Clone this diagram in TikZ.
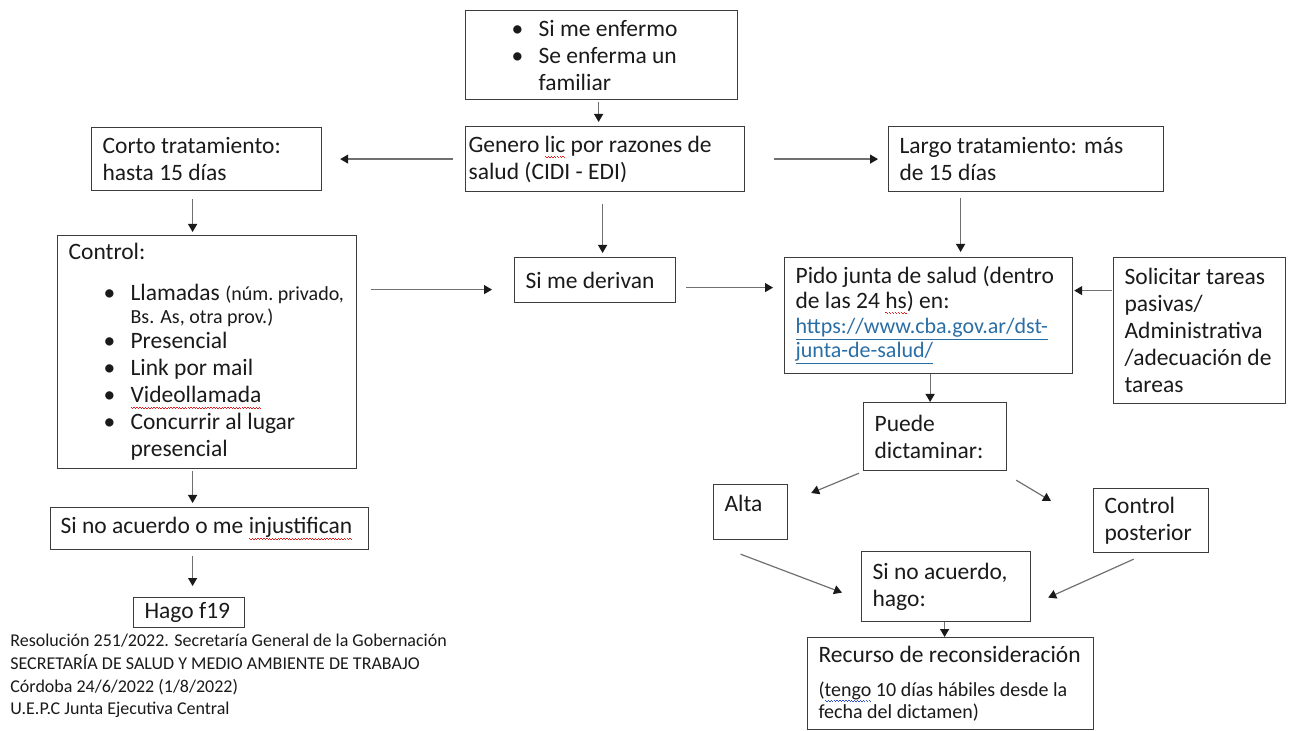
\documentclass[tikz,border=0pt]{standalone}
\usepackage{fontspec}
\setmainfont{Carlito}
\usepackage{tikz}
\usetikzlibrary{arrows.meta}
\definecolor{ink}{HTML}{1A1A1A}
\definecolor{frame}{HTML}{3C3C3C}
\definecolor{wire}{HTML}{707070}
\definecolor{link}{HTML}{2A6EA6}
\definecolor{spell}{HTML}{E02020}
\definecolor{spellb}{HTML}{3050D0}
\newcommand\txt{\fontsize{11.75}{13.5}\selectfont}
\newcommand\sml{\fontsize{10}{11}\selectfont}
\newcommand\bul{\hspace*{17.5pt}\makebox[13.5pt][l]{\textbullet}}
\newcommand\cont{\hspace*{31pt}}
% spell-check squiggle under a word
\newcommand\wavy[2]{\setbox0\hbox{#2}\rlap{\textcolor{#1}{\hbox to\wd0{\xleaders\hbox{\rule[-2.3pt]{0.7pt}{0.35pt}\rule[-2.8pt]{0.7pt}{0.35pt}}\hfill}}}\box0\relax}

\begin{document}
\begin{tikzpicture}[x=0.5pt,y=-0.5pt, every node/.style={font=\txt,text=ink},
    box/.style={draw=frame,line width=0.6pt,anchor=north west,align=flush left,inner xsep=5.5pt,inner ysep=2pt},
    arr/.style={-{Triangle[length=4pt,width=4.5pt,ink]},wire,line width=0.6pt}]
    \useasboundingbox (0,0) rectangle (1289,731);
    % middle column
    \node[box,text width=125pt,minimum height=44.5pt] (sick) at (465,10) {\bul Si me enfermo\\ \bul Se enferma un\\ \cont familiar};
    \node[box,inner xsep=1.5pt,text width=136.5pt,minimum height=32.5pt] (genero) at (465,126) {Genero \wavy{spell}{lic} por razones de\\salud (CIDI - EDI)};
    \node[box,text width=69.5pt,minimum height=22.5pt] (derivan) at (514,257) {Si me~derivan};
    % left column
    \node[box,text width=104pt,minimum height=31.5pt] (corto) at (91,127) {Corto tratamiento:\\hasta 15 días};
    \node[box,text width=138.5pt,minimum height=116.5pt] (control) at (57,235) {Control:\\[7pt]
      \bul Llamadas~{\sml (núm.~privado,}\\[-2pt] \cont{\sml Bs. As, otra prov.)}\\[-1pt]
      \bul Presencial\\ \bul Link por mail\\ \bul \wavy{spell}{Videollamada}\\ \bul Concurrir al lugar\\ \cont presencial};
    \node[box,inner xsep=5pt,text width=149pt,minimum height=21pt] (injust) at (50,507) {Si no acuerdo o me~\wavy{spell}{injustifican}};
    \node[box,text width=44.5pt,minimum height=15pt] (f19) at (133,597) {Hago~f19};
    \node[anchor=north west,align=flush left,inner sep=0pt,font=\fontsize{9}{11.3}\selectfont] (nota) at (10,634)
      {Resolución 251/2022. Secretaría General de la Gobernación\\SECRETARÍA DE SALUD Y MEDIO AMBIENTE DE TRABAJO\\Córdoba 24/6/2022 (1/8/2022)\\U.E.P.C Junta Ejecutiva Central};
    % right column
    \node[box,text width=126.5pt,minimum height=32.5pt] (largo) at (888,126) {Largo tratamiento: más\\de 15 días};
    \node[box,text width=133pt,minimum height=58pt] (pido) at (784,257) {Pido junta de salud (dentro\\[-1pt]de las 24 \wavy{spell}{hs}) en:\\[1.5pt]
      {\fontsize{11}{11}\selectfont\color{link}\underline{https://www.cba.gov.ar/dst-}\\[-1.5pt]\underline{junta-de-salud/}}};
    \node[box,text width=75pt,minimum height=73pt] (tareas) at (1113,257) {Solicitar~tareas\\pasivas/\\Administrativa\\/adecuación~de\\tareas};
    \node[box,text width=60.5pt,minimum height=34pt] (puede) at (863,402) {Puede\\dictaminar:};
    \node[box,text width=26pt,minimum height=27.5pt,text depth=9pt] (alta) at (713,484) {Alta};
    \node[box,text width=46.5pt,minimum height=32pt] (posterior) at (1093,488) {Control\\posterior};
    \node[box,text width=73.5pt,minimum height=35pt] (desacuerdo) at (861,551) {Si no acuerdo,\\hago:};
    \node[box,text width=132pt,minimum height=46pt] (recurso) at (807,637) {Recurso de~reconsideración\\[3.5pt]
      {\sml (\wavy{spellb}{tengo} 10 días hábiles desde~la}\\[-2.5pt] {\sml fecha del dictamen)}};
    % connectors
    \draw[arr,shorten <=1pt,shorten >=2pt] ([xshift=-1.5pt]sick.south) -- ([xshift=-1.5pt]sick.south |- genero.north);
    \draw[arr,shorten <=6pt,shorten >=9pt] (genero.west) -- (corto.east);
    \draw[arr,shorten <=14.5pt,shorten >=5pt] (genero.east) -- (largo.west);
    \draw[arr,shorten <=6pt,shorten >=2pt] ([xshift=-1.25pt]genero.south) -- ([xshift=-1.25pt]genero.south |- derivan.north);
    \draw[arr,shorten <=4pt,shorten >=1.5pt] ([xshift=-7pt]corto.south) -- ([xshift=-7pt]corto.south |- control.north);
    \draw[arr,shorten <=1pt,shorten >=2pt] ([xshift=-7.25pt]control.south) -- ([xshift=-7.25pt]control.south |- injust.north);
    \draw[arr,shorten <=3pt,shorten >=5.5pt] ([xshift=-8.5pt]injust.south) -- ([xshift=-8.5pt]injust.south |- f19.north);
    \draw[arr,shorten <=7pt,shorten >=11pt] ([yshift=-4.75pt]derivan.west -| control.east) -- ([yshift=-4.75pt]derivan.west);
    \draw[arr,shorten <=5pt,shorten >=5.5pt] ([yshift=-3.75pt]derivan.east) -- ([yshift=-3.75pt]derivan.east -| pido.west);
    \draw[arr,shorten <=3pt,shorten >=2.5pt] ([xshift=-32.75pt]largo.south) -- ([xshift=-32.75pt]largo.south |- pido.north);
    \draw[arr,shorten <=0.5pt,shorten >=0.5pt] ([yshift=12.5pt]pido.east -| tareas.west) -- ([yshift=12.5pt]pido.east);
    \draw[arr] ([xshift=0.75pt]pido.south) -- ([xshift=0.75pt]pido.south |- puede.north);
    \draw[arr] ([shift={(-2pt,-1pt)}]puede.south west) -- ([shift={(11.5pt,-4.5pt)}]alta.north east);
    \draw[arr] ([shift={(4.5pt,-4.5pt)}]puede.south east) -- ([shift={(-21pt,-6.5pt)}]posterior.north west);
    \draw[arr] ([shift={(-5pt,-7pt)}]alta.south) -- ([shift={(-9.5pt,-3pt)}]desacuerdo.west);
    \draw[arr] ([shift={(-8.75pt,-3pt)}]posterior.south) -- ([shift={(8.5pt,-5.5pt)}]desacuerdo.east);
    \draw[arr] ([xshift=-0.75pt]desacuerdo.south) -- ([xshift=-0.75pt]desacuerdo.south |- recurso.north);
\end{tikzpicture}
\end{document}
